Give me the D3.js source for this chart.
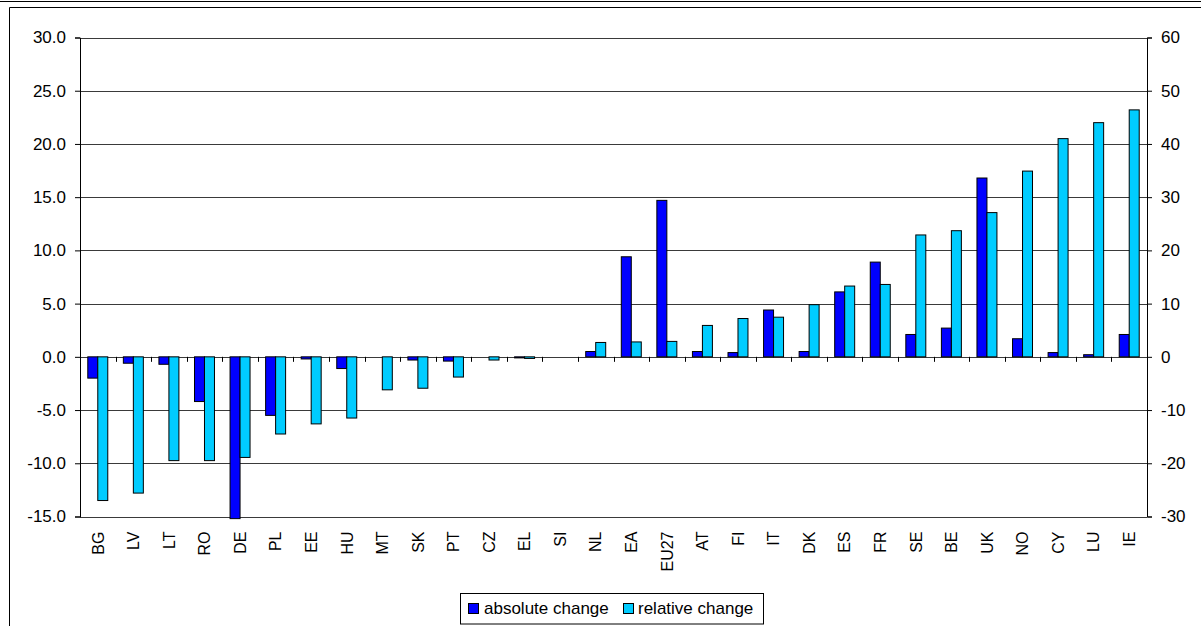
<!DOCTYPE html>
<html><head><meta charset="utf-8">
<script src="https://cdn.jsdelivr.net/npm/d3@7/dist/d3.min.js"></script>
<style>
body{margin:0;background:#fff}
text{font-family:"Liberation Sans",Arial,sans-serif;fill:#000}
</style>
</head><body>
<svg id="c" width="1201" height="626"></svg>
<script>
const categories = ["BG","LV","LT","RO","DE","PL","EE","HU","MT","SK","PT","CZ","EL","SI","NL","EA","EU27","AT","FI","IT","DK","ES","FR","SE","BE","UK","NO","CY","LU","IE"];
const absoluteChange = [-2.0,-0.6,-0.7,-4.2,-15.2,-5.5,-0.2,-1.1,0,-0.3,-0.4,0,-0.1,0,0.5,9.4,14.7,0.5,0.4,4.4,0.5,6.1,8.9,2.1,2.7,16.8,1.7,0.4,0.2,2.1];
const relativeChange = [-27.0,-25.6,-19.5,-19.5,-18.9,-14.5,-12.6,-11.5,-6.2,-5.9,-3.8,-0.6,-0.3,0,2.7,2.8,2.9,5.9,7.2,7.45,9.8,13.3,13.6,22.9,23.7,27.1,34.9,41.0,44.0,46.4];
const seriesNames = ["absolute change","relative change"];
const seriesColors = ["#0000FF","#00CCFF"];
const leftTicks = [30,25,20,15,10,5,0,-5,-10,-15];
const rightTicks = [60,50,40,30,20,10,0,-10,-20,-30];

const svg = d3.select("#c");
const L = 80, R = 1147, T = 37.5, B = 516.5;

const x = d3.scaleBand().domain(categories).range([L, R]).paddingInner(0).paddingOuter(0);
const x1 = d3.scaleBand().domain(seriesNames).range([0, x.bandwidth()]).paddingInner(0).paddingOuter(0.78);
const yL = d3.scaleLinear().domain([-15, 30]).range([B, T]);
const yR = d3.scaleLinear().domain([-30, 60]).range([B, T]);

// outer frame
svg.append("line").attr("x1",0).attr("x2",1201).attr("y1",1.5).attr("y2",1.5).attr("stroke","#000").attr("stroke-width",1.2);
svg.append("path").attr("d","M9.5,626V7.5H1201").attr("fill","none").attr("stroke","#000").attr("stroke-width",1);

// gridlines
svg.append("g").selectAll("line").data(leftTicks).join("line")
  .attr("x1",L).attr("x2",R)
  .attr("y1",d=>Math.round(yL(d))+0.5).attr("y2",d=>Math.round(yL(d))+0.5)
  .attr("stroke","#3a3a3a").attr("stroke-width",1);

// bars
const data = categories.map((c,i)=>({c, vals:[
  {s:seriesNames[0], v:absoluteChange[i], y:yL, col:seriesColors[0]},
  {s:seriesNames[1], v:relativeChange[i], y:yR, col:seriesColors[1]}
]}));
svg.append("g").selectAll("g").data(data).join("g")
  .attr("transform",d=>`translate(${x(d.c)},0)`)
  .selectAll("rect").data(d=>d.vals.filter(e=>e.v!==0)).join("rect")
  .attr("x",d=>x1(d.s)).attr("width",x1.bandwidth())
  .attr("y",d=>Math.min(d.y(d.v), d.y(0)))
  .attr("height",d=>Math.abs(d.y(d.v)-d.y(0)))
  .attr("fill",d=>d.col).attr("stroke","#000").attr("stroke-width",1);

// left axis
const gl = svg.append("g").attr("transform",`translate(${L},0)`)
  .call(d3.axisLeft(yL).tickValues(leftTicks).tickFormat(d=>d.toFixed(1)).tickSize(5).tickPadding(9));
gl.select(".domain").attr("stroke","#000");
gl.selectAll("text").style("font-size","17px").attr("font-family",null);

// right axis
const gr = svg.append("g").attr("transform",`translate(${R},0)`)
  .call(d3.axisRight(yR).tickValues(rightTicks).tickFormat(d=>String(d)).tickSize(5).tickPadding(9));
gr.select(".domain").attr("stroke","#000");
gr.selectAll("text").style("font-size","17px").attr("font-family",null);

// category ticks on zero line
const boundaries = categories.slice(1).map(c=>x(c));
svg.append("g").selectAll("line").data(boundaries).join("line")
  .attr("x1",d=>Math.round(d)+0.5).attr("x2",d=>Math.round(d)+0.5)
  .attr("y1",yL(0)).attr("y2",yL(0)+5).attr("stroke","#000");

// category labels
svg.append("g").selectAll("text").data(categories).join("text")
  .attr("transform",d=>`translate(${x(d)+x.bandwidth()/2},531.5) rotate(-90)`)
  .attr("text-anchor","end").attr("dy","0.36em")
  .style("font-size","16px").text(d=>d);

// legend
const lg = svg.append("g");
lg.append("rect").attr("x",460.5).attr("y",593.5).attr("width",303).attr("height",30.5)
  .attr("fill","#fff").attr("stroke","#000");
const legX = [468, 623], legTX = [484, 638];
seriesNames.forEach((s,i)=>{
  lg.append("rect").attr("x",legX[i]+0.5).attr("y",603.5).attr("width",10).attr("height",10)
    .attr("fill",seriesColors[i]).attr("stroke","#000");
  lg.append("text").attr("x",legTX[i]).attr("y",614).style("font-size","17px").text(s);
});
</script>
</body></html>
